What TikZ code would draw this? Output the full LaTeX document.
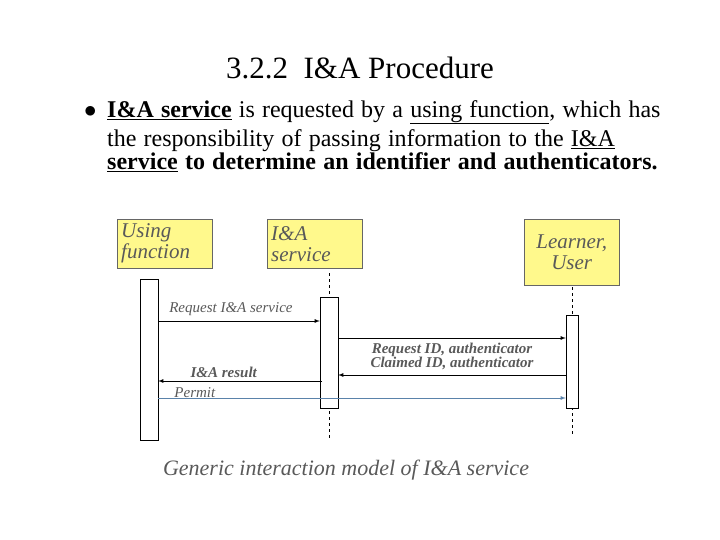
\documentclass[tikz,border=0pt]{standalone}
\usepackage{fontspec}
\setmainfont{Liberation Serif}
\definecolor{permitblue}{RGB}{90,130,170}
\tikzset{
	actor box/.style={draw=black!60, fill=yellow!45, minimum width=95, minimum height=49, inner sep=3, align=left, font=\itshape\fontsize{21}{21}\selectfont, text=black!65},
	bar/.style={draw, fill=white, minimum width=18, inner sep=0},
	life line/.style={dashed, thin},
	msg/.style={-latex, thick},
	msg label/.style={font=\itshape\fontsize{15}{15}\selectfont, text=black!65},
	bold label/.style={font=\bfseries\itshape\fontsize{15}{15}\selectfont, text=black!65},
}
\begin{document}
\begin{tikzpicture}[x=1pt, y=-1pt]
\useasboundingbox (0,0) rectangle (720,540);
\node (title) at (360,68) {\fontsize{31}{31}\selectfont 3.2.2\ \ I\&A Procedure};
\node[anchor=north west, text width=640, align=left, inner sep=0] (bullet) at (84,100)
  {\fontsize{24}{29}\selectfont \spaceskip=0.3em plus 0.1em \makebox[23pt][l]{$\bullet$}\textbf{\underline{I\&A service}} is requested by a \underline{using function}, which has\\
  \hspace*{23pt}the responsibility of passing information to the \underline{I\&A}\\
  \hspace*{23pt}\textbf{\underline{service} to determine an identifier and authenticators.}};
% actors
\node[actor box, anchor=north west, text width=87] (uf) at (117,219) {Using\\function};
\node[actor box, anchor=north west, text width=87] (ia) at (267,219) {I\&A\\service};
\node[actor box, anchor=north west, minimum height=66, align=center] (lu) at (524,219) {Learner,\\User};
% activation bars
\node[bar, minimum height=161, anchor=north] (ufbar) at (149,279) {};
\draw[life line] (329,273) -- (329,440);
\node[bar, minimum height=111, anchor=north] (iabar) at (329,297) {};
\draw[life line] (572,287) -- (572,435);
\node[bar, minimum width=12, minimum height=93, anchor=north] (lubar) at (572,315) {};
% messages
\draw[msg] (ufbar.east |- 0,321) -- (iabar.west |- 0,321) node[msg label, pos=0.45, above=2] {Request I\&A service};
\draw[msg] (iabar.east |- 0,338) -- (lubar.west |- 0,338) node[bold label, midway, below=1] {Request ID, authenticator};
\draw[msg] (lubar.west |- 0,375) -- (iabar.east |- 0,375) node[bold label, midway, above=1] {Claimed ID, authenticator};
\draw[msg] (322,381) -- (ufbar.east |- 0,381) node[bold label, pos=0.6, above=0] {I\&A result};
\draw[-latex, permitblue, thick] (ufbar.east |- 0,398) -- (lubar.west |- 0,398) node[msg label, pos=0.09, above=-3] {Permit};
\node[font=\itshape\fontsize{22}{22}\selectfont, text=black!65] (caption) at (346,470) {Generic interaction model of I\&A service};
\end{tikzpicture}
\end{document}
